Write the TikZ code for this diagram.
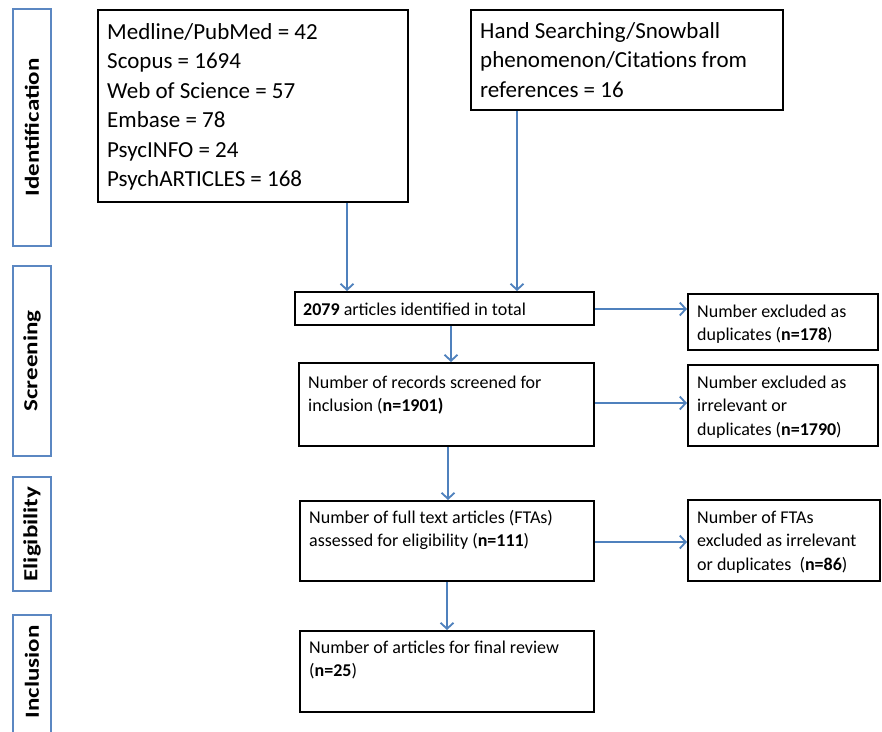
\documentclass[tikz,border=0pt]{standalone}
\usepackage{fontspec}
\setmainfont{Carlito}
\usepackage{graphicx}
\usetikzlibrary{arrows.meta,calc}
\definecolor{arrblue}{HTML}{4F81BD}
\definecolor{lblblue}{HTML}{5B87C2}
\begin{document}
\begin{tikzpicture}[x=1pt,y=-1pt,
  box/.style={draw=black, line width=2pt, inner sep=0pt, anchor=north west},
  lblbox/.style={draw=lblblue, line width=2pt, inner sep=0pt, anchor=north west},
  lbltext/.style={rotate=90, inner sep=0pt, font=\fontsize{20}{24}\selectfont\bfseries},
  bigtext/.style={anchor=north west, inner sep=0pt, align=left, font=\fontsize{23}{29.5}\selectfont},
  smalltext/.style={anchor=north west, inner sep=0pt, align=left, font=\fontsize{18}{23.5}\selectfont},
  arr/.style={draw=arrblue, line width=1.8pt, -{Straight Barb[length=6pt,width=13pt,line width=1.8pt]}}]
\useasboundingbox[fill=white] (0,0) rectangle (882,731);

% stage labels
\node[lblbox, minimum width=38pt, minimum height=237pt] (L1) at (12,8) {};
\node[lbltext] (L1t) at (L1.center) {\scalebox{1.25}[1]{Identification}};
\node[lblbox, minimum width=38pt, minimum height=190pt] (L2) at (12,265) {};
\node[lbltext] (L2t) at (L2.center) {\scalebox{1.25}[1]{Screening}};
\node[lblbox, minimum width=38pt, minimum height=114pt] (L3) at (12,476) {};
\node[lbltext] (L3t) at (L3.center) {\scalebox{1.25}[1]{Eligibility}};
\node[lblbox, minimum width=38pt, minimum height=130pt] (L4) at (12,614) {};
\node[lbltext] (L4t) at ($(L4.north)+(0,58)$) {\scalebox{1.25}[1]{Inclusion}};

% main boxes
\node[box, minimum width=310pt, minimum height=192pt] (A) at (97,9) {};
\node[bigtext] (At) at (107,15) {\rule{0pt}{24pt}Medline/PubMed = 42\\Scopus = 1694\\Web of Science = 57\\Embase = 78\\PsycINFO = 24\\PsychARTICLES = 168};

\node[box, minimum width=312pt, minimum height=100pt] (B) at (470,9) {};
\node[bigtext] (Bt) at (480,14) {\rule{0pt}{24pt}Hand Searching/Snowball\\phenomenon/Citations from\\references = 16};

\node[box, minimum width=299pt, minimum height=33pt] (C) at (294,291) {};
\node[smalltext] (Ct) at (303,295) {\rule{0pt}{20pt}\textbf{2079} articles identified in total};

\node[box, minimum width=295pt, minimum height=83pt] (D) at (298,362) {};
\node[smalltext] (Dt) at (308,368) {\rule{0pt}{20pt}Number of records screened for\\inclusion (\textbf{n=1901)}};

\node[box, minimum width=294pt, minimum height=80pt] (E) at (299,500) {};
\node[smalltext] (Et) at (309,503) {\rule{0pt}{20pt}Number of full text articles (FTAs)\\assessed for eligibility (\textbf{n=111})};

\node[box, minimum width=294pt, minimum height=81pt] (F) at (299,630) {};
\node[smalltext] (Ft) at (309,633) {\rule{0pt}{20pt}Number of articles for final review\\(\textbf{n=25})};

\node[box, minimum width=190pt, minimum height=56pt] (G) at (687,293) {};
\node[smalltext] (Gt) at (697,297) {\rule{0pt}{20pt}Number excluded as\\duplicates (\textbf{n=178})};

\node[box, minimum width=190pt, minimum height=81pt] (H) at (687,364) {};
\node[smalltext] (Ht) at (697,368) {\rule{0pt}{20pt}Number excluded as\\irrelevant or\\duplicates (\textbf{n=1790})};

\node[box, minimum width=192pt, minimum height=81pt] (I) at (687,499) {};
\node[smalltext] (It) at (697,503) {\rule{0pt}{20pt}Number of FTAs\\excluded as irrelevant\\or duplicates~~(\textbf{n=86})};

% connector guide coordinates
\coordinate (xA) at (347,0);
\coordinate (xB) at (517,0);
\coordinate (xC) at (451,0);
\coordinate (xD) at (448,0);
\coordinate (xE) at (447,0);
\coordinate (yG) at (0,309);
\coordinate (yH) at (0,403);
\coordinate (yI) at (0,542);

\draw[arr] (A.south -| xA) -- (C.north -| xA);
\draw[arr] (B.south -| xB) -- (C.north -| xB);
\draw[arr] (C.south -| xC) -- (D.north -| xC);
\draw[arr] (D.south -| xD) -- (E.north -| xD);
\draw[arr] (E.south -| xE) -- (F.north -| xE);
\draw[arr] (C.east |- yG) -- (G.west |- yG);
\draw[arr] (D.east |- yH) -- (H.west |- yH);
\draw[arr] (E.east |- yI) -- (I.west |- yI);
\end{tikzpicture}
\end{document}
